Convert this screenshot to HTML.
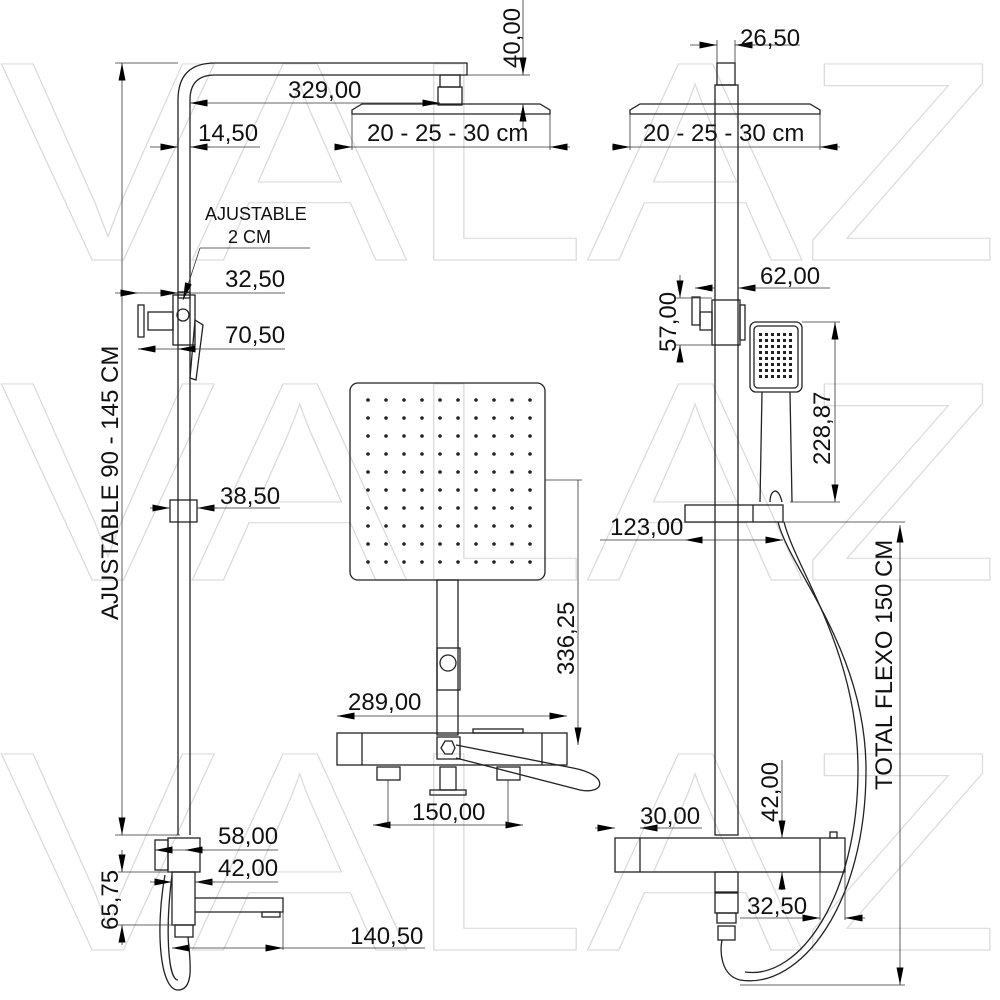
<!DOCTYPE html>
<html><head><meta charset="utf-8"><style>
html,body{margin:0;padding:0;background:#fff;}
svg{display:block;}
text{font-family:"Liberation Sans",sans-serif;fill:#111;}
.d{font-size:24px;}
</style></head><body>
<svg width="1000" height="1000" viewBox="0 0 1000 1000" xmlns="http://www.w3.org/2000/svg">
<defs>
<marker id="a" viewBox="0 0 20 8" refX="20" refY="4" markerWidth="18" markerHeight="7" orient="auto-start-reverse" markerUnits="userSpaceOnUse"><path d="M0,0 L20,4 L0,8z" fill="#000"/></marker>
</defs>
<g>
<text x="0" y="260" font-size="285" textLength="1000" lengthAdjust="spacingAndGlyphs" style="fill:none;stroke:#dcdcdc;stroke-width:1.2">VALAZ</text>
<text x="0" y="580" font-size="285" textLength="1000" lengthAdjust="spacingAndGlyphs" style="fill:none;stroke:#dcdcdc;stroke-width:1.2">VALAZ</text>
<text x="0" y="950" font-size="285" textLength="1000" lengthAdjust="spacingAndGlyphs" style="fill:none;stroke:#dcdcdc;stroke-width:1.2">VALAZ</text>
</g>
<g fill="none" stroke="#222" stroke-width="1.3">
<path d="M178,835 L178,100 Q178,63 215,63 L467,63 L467,75 L215,75 Q190,75 190,100 L190,835"/>
<rect x="440" y="75" width="20" height="12"/><rect x="438" y="87" width="24" height="18"/>
<path d="M352,110 L362,104 L540,104 L550,110 L550,114 L352,114Z"/>
<rect x="173" y="295" width="22" height="50"/><circle cx="183" cy="315" r="6"/>
<rect x="178" y="292" width="12" height="6"/>
<rect x="148" y="312" width="25" height="18"/><rect x="138" y="305" width="6" height="32"/>
<path d="M195,320 L203,325 L196,380 L190,378Z"/>
<rect x="170" y="500" width="27" height="22"/>
<rect x="155" y="840" width="13" height="30"/>
<rect x="168" y="838" width="32" height="34"/>
<rect x="172" y="872" width="23" height="53"/>
<path d="M195,898 L283,898 L283,912 L195,912"/><rect x="262" y="912" width="18" height="5"/>
<rect x="175" y="925" width="18" height="12"/>
<path d="M165,875 C155,930 160,990 178,990 C195,990 190,960 188,937"/>
<path d="M172,875 C165,930 168,980 178,980"/>
<rect x="350" y="383" width="195" height="197" rx="8"/>
<rect x="437" y="580" width="21" height="155"/>
<rect x="437" y="648" width="23" height="42"/><circle cx="448" cy="663" r="8"/>
<rect x="337" y="733" width="230" height="32"/>
<line x1="362" y1="733" x2="362" y2="765"/><line x1="542" y1="733" x2="542" y2="765"/>
<rect x="473" y="729" width="50" height="4"/>
<rect x="437" y="737" width="23" height="22"/><path d="M441,748 L445,741 L452,741 L455,748 L452,754 L445,754Z"/>
<rect x="377" y="767" width="23" height="13"/><rect x="497" y="767" width="23" height="13"/>
<rect x="440" y="767" width="16" height="23"/><rect x="430" y="790" width="36" height="5"/>
<path d="M456,745 L573,768 C610,775 605,795 580,790 L456,758"/>
<rect x="715" y="85" width="23" height="750"/>
<rect x="717" y="63" width="18" height="22"/>
<path d="M630,110 L640,104 L810,104 L820,110 L820,114 L630,114Z"/>
<rect x="712" y="300" width="28" height="45"/><rect x="740" y="305" width="5" height="35"/>
<rect x="700" y="312" width="12" height="18"/><rect x="692" y="297" width="8" height="28"/>
<rect x="750" y="322" width="52" height="70" rx="6"/><rect x="754" y="326" width="44" height="62" rx="4"/>
<path d="M762,392 L760,502 M790,392 L792,502"/>
<path d="M770,502 C770,490 778,485 782,502"/>
<rect x="685" y="505" width="98" height="17"/><line x1="753" y1="505" x2="753" y2="522"/>
<path d="M778,522 C790,570 866,650 866,770 C866,905 800,990 740,980 C720,975 720,950 722,940"/>
<path d="M784,522 C796,570 858,650 858,770 C858,895 800,980 745,972"/>
<rect x="615" y="838" width="230" height="34"/>
<line x1="640" y1="838" x2="640" y2="872"/><line x1="820" y1="838" x2="820" y2="872"/>
<rect x="830" y="832" width="7" height="6"/>
<rect x="715" y="872" width="23" height="20"/><rect x="715" y="893" width="23" height="20"/>
<rect x="717" y="913" width="19" height="10"/><rect x="718" y="926" width="17" height="14"/>
</g>
<g fill="#222">
<g id="row">
<circle cx="368" cy="400" r="1.8"/><circle cx="386" cy="400" r="1.8"/><circle cx="404" cy="400" r="1.8"/><circle cx="422" cy="400" r="1.8"/><circle cx="440" cy="400" r="1.8"/><circle cx="458" cy="400" r="1.8"/><circle cx="476" cy="400" r="1.8"/><circle cx="494" cy="400" r="1.8"/><circle cx="512" cy="400" r="1.8"/><circle cx="530" cy="400" r="1.8"/>
</g>
<use href="#row" y="18"/><use href="#row" y="36"/><use href="#row" y="54"/><use href="#row" y="72"/><use href="#row" y="90"/><use href="#row" y="108"/><use href="#row" y="126"/><use href="#row" y="144"/><use href="#row" y="162"/>
<g id="hr"><rect x="759" y="333" width="3" height="3"/><rect x="765" y="333" width="3" height="3"/><rect x="771" y="333" width="3" height="3"/><rect x="777" y="333" width="3" height="3"/><rect x="783" y="333" width="3" height="3"/><rect x="789" y="333" width="3" height="3"/></g>
<use href="#hr" y="6"/><use href="#hr" y="12"/><use href="#hr" y="18"/><use href="#hr" y="24"/><use href="#hr" y="30"/><use href="#hr" y="36"/><use href="#hr" y="42"/>
</g>
<g stroke="#333" stroke-width="0.8" fill="none">
<line x1="178" y1="63" x2="115" y2="63"/>
<line x1="122" y1="63" x2="122" y2="835" marker-start="url(#a)" marker-end="url(#a)"/>
<line x1="115" y1="835" x2="180" y2="835"/>
<line x1="190" y1="103" x2="440" y2="103" marker-start="url(#a)" marker-end="url(#a)"/>
<line x1="150" y1="147" x2="178" y2="147" marker-end="url(#a)"/><line x1="210" y1="147" x2="190" y2="147" marker-end="url(#a)"/><line x1="190" y1="147" x2="260" y2="147"/>
<line x1="335" y1="147" x2="352" y2="147" marker-end="url(#a)"/><line x1="352" y1="147" x2="550" y2="147"/><line x1="570" y1="147" x2="550" y2="147" marker-end="url(#a)"/>
<line x1="352" y1="114" x2="352" y2="150"/><line x1="550" y1="114" x2="550" y2="150"/>
<line x1="523" y1="0" x2="523" y2="75" marker-end="url(#a)"/><line x1="523" y1="130" x2="523" y2="104" marker-end="url(#a)"/>
<line x1="467" y1="75" x2="530" y2="75"/>
<line x1="200" y1="248" x2="310" y2="248"/><line x1="200" y1="248" x2="183" y2="300" marker-end="url(#a)"/>
<line x1="115" y1="293" x2="138" y2="293" marker-end="url(#a)"/><line x1="138" y1="293" x2="285" y2="293"/><line x1="160" y1="293" x2="178" y2="293" marker-end="url(#a)"/>
<line x1="138" y1="349" x2="285" y2="349" marker-start="url(#a)"/><line x1="197" y1="349" x2="178" y2="349" marker-end="url(#a)"/>
<line x1="150" y1="508" x2="170" y2="508" marker-end="url(#a)"/><line x1="217" y1="508" x2="197" y2="508" marker-end="url(#a)"/><line x1="197" y1="508" x2="280" y2="508"/>
<line x1="155" y1="850" x2="278" y2="850" marker-start="url(#a)"/><line x1="205" y1="850" x2="185" y2="850" marker-end="url(#a)"/>
<line x1="150" y1="882" x2="172" y2="882" marker-end="url(#a)"/><line x1="215" y1="882" x2="195" y2="882" marker-end="url(#a)"/><line x1="195" y1="882" x2="278" y2="882"/>
<line x1="118" y1="872" x2="170" y2="872"/><line x1="118" y1="925" x2="175" y2="925"/>
<line x1="122" y1="850" x2="122" y2="872" marker-end="url(#a)"/><line x1="122" y1="945" x2="122" y2="925" marker-end="url(#a)"/>
<line x1="172" y1="948" x2="283" y2="948" marker-start="url(#a)" marker-end="url(#a)"/><line x1="283" y1="948" x2="425" y2="948"/><line x1="283" y1="912" x2="283" y2="950"/>
<line x1="337" y1="716" x2="567" y2="716" marker-start="url(#a)" marker-end="url(#a)"/>
<line x1="373" y1="825" x2="523" y2="825" marker-start="url(#a)" marker-end="url(#a)"/>
<line x1="388" y1="780" x2="388" y2="825"/><line x1="508" y1="780" x2="508" y2="825"/>
<line x1="545" y1="480" x2="582" y2="480"/><line x1="578" y1="480" x2="578" y2="745" marker-end="url(#a)"/>
<line x1="690" y1="45" x2="717" y2="45" marker-end="url(#a)"/><line x1="755" y1="45" x2="735" y2="45" marker-end="url(#a)"/><line x1="735" y1="45" x2="800" y2="45"/>
<line x1="717" y1="40" x2="717" y2="63"/><line x1="735" y1="40" x2="735" y2="63"/>
<line x1="612" y1="147" x2="630" y2="147" marker-end="url(#a)"/><line x1="630" y1="147" x2="820" y2="147"/><line x1="840" y1="147" x2="820" y2="147" marker-end="url(#a)"/>
<line x1="630" y1="114" x2="630" y2="150"/><line x1="820" y1="114" x2="820" y2="150"/>
<line x1="695" y1="288" x2="715" y2="288" marker-start="url(#a)"/><line x1="755" y1="288" x2="738" y2="288" marker-end="url(#a)"/><line x1="738" y1="288" x2="830" y2="288"/>
<line x1="680" y1="275" x2="680" y2="298" marker-end="url(#a)"/><line x1="680" y1="360" x2="680" y2="345" marker-end="url(#a)"/>
<line x1="675" y1="298" x2="712" y2="298"/><line x1="675" y1="345" x2="712" y2="345"/>
<line x1="802" y1="322" x2="840" y2="322"/><line x1="790" y1="502" x2="840" y2="502"/>
<line x1="835" y1="322" x2="835" y2="502" marker-start="url(#a)" marker-end="url(#a)"/>
<line x1="600" y1="540" x2="685" y2="540"/><line x1="685" y1="540" x2="783" y2="540" marker-start="url(#a)" marker-end="url(#a)"/>
<line x1="783" y1="522" x2="905" y2="522"/>
<line x1="900" y1="525" x2="900" y2="985" marker-start="url(#a)" marker-end="url(#a)"/>
<line x1="740" y1="985" x2="905" y2="985"/>
<line x1="595" y1="828" x2="615" y2="828" marker-end="url(#a)"/><line x1="660" y1="828" x2="640" y2="828" marker-end="url(#a)"/><line x1="640" y1="828" x2="702" y2="828"/>
<line x1="782" y1="760" x2="782" y2="838" marker-end="url(#a)"/><line x1="782" y1="890" x2="782" y2="872" marker-end="url(#a)"/>
<line x1="820" y1="872" x2="820" y2="920"/><line x1="845" y1="872" x2="845" y2="920"/>
<line x1="740" y1="918" x2="820" y2="918" marker-end="url(#a)"/><line x1="865" y1="918" x2="845" y2="918" marker-end="url(#a)"/>
</g>
<g class="d">
<text x="288" y="98" font-size="24">329,00</text>
<text x="198" y="141" font-size="24">14,50</text>
<text x="367" y="141" font-size="24">20 - 25 - 30 cm</text>
<text transform="translate(520,68) rotate(-90)" font-size="24">40,00</text>
<text x="205" y="220" font-size="18">AJUSTABLE</text>
<text x="228" y="243" font-size="18">2 CM</text>
<text x="225" y="287" font-size="24">32,50</text>
<text x="225" y="343" font-size="24">70,50</text>
<text x="220" y="504" font-size="24">38,50</text>
<text x="218" y="844" font-size="24">58,00</text>
<text x="218" y="876" font-size="24">42,00</text>
<text transform="translate(118,930) rotate(-90)" font-size="24">65,75</text>
<text x="350" y="944" font-size="24">140,50</text>
<text transform="translate(118,620) rotate(-90)" font-size="24">AJUSTABLE 90 - 145 CM</text>
<text x="348" y="710" font-size="24">289,00</text>
<text x="412" y="820" font-size="24">150,00</text>
<text transform="translate(574,675) rotate(-90)" font-size="24">336,25</text>
<text x="740" y="46" font-size="24">26,50</text>
<text x="643" y="141" font-size="24">20 - 25 - 30 cm</text>
<text x="760" y="284" font-size="24">62,00</text>
<text transform="translate(676,352) rotate(-90)" font-size="24">57,00</text>
<text transform="translate(830,465) rotate(-90)" font-size="24">228,87</text>
<text x="610" y="535" font-size="24">123,00</text>
<text transform="translate(892,790) rotate(-90)" font-size="24">TOTAL FLEXO 150 CM</text>
<text x="640" y="824" font-size="24">30,00</text>
<text transform="translate(778,822) rotate(-90)" font-size="24">42,00</text>
<text x="747" y="914" font-size="24">32,50</text>
</g>
</svg>
</body></html>
